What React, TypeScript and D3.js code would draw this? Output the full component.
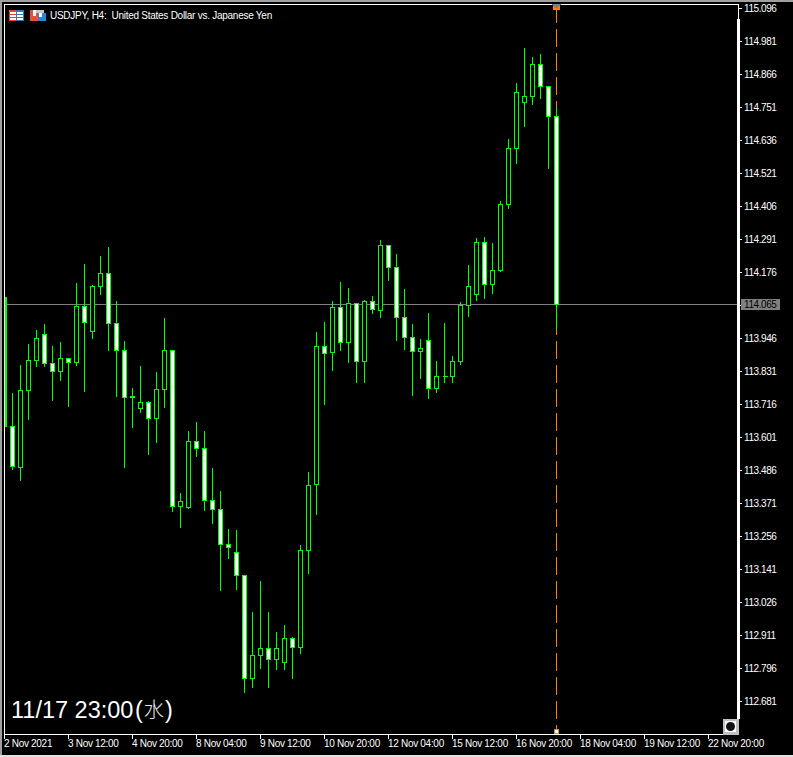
import React from "react";
import * as d3 from "d3";

const opens = [114.089,113.639,113.497,113.765,113.869,113.960,113.859,113.831,113.876,113.862,114.058,113.970,114.127,114.172,113.998,113.904,113.744,113.702,113.723,113.667,113.768,113.904,113.360,113.357,113.587,113.563,113.382,113.350,113.228,113.200,113.120,112.761,112.841,112.866,112.827,112.817,112.900,112.869,113.207,113.437,113.918,113.897,114.054,113.932,114.068,113.866,114.075,114.044,114.270,114.193,114.019,113.950,113.901,113.939,113.772,113.814,113.814,113.866,114.061,114.099,114.280,114.134,114.183,114.413,114.608,114.768,114.789,114.901,114.824,114.720];
const highs = [114.089,113.758,113.855,113.929,113.977,113.998,113.922,113.936,113.880,114.141,114.207,114.134,114.235,114.267,114.078,113.939,113.775,113.852,113.730,113.831,114.019,113.904,113.409,113.625,113.657,113.625,113.497,113.416,113.284,113.280,113.120,112.995,113.103,112.995,112.925,112.949,112.907,113.228,113.482,113.970,114.005,114.078,114.145,114.124,114.071,114.082,114.096,114.291,114.274,114.242,114.120,113.998,113.946,114.037,113.869,114.002,113.887,114.075,114.204,114.298,114.301,114.280,114.427,114.643,114.838,114.960,114.929,114.939,114.828,114.754];
const lows = [113.639,113.490,113.451,113.664,113.848,113.848,113.730,113.800,113.709,113.852,113.761,113.946,114.099,113.904,113.744,113.497,113.636,113.688,113.542,113.584,113.705,113.343,113.287,113.354,113.535,113.347,113.301,113.068,113.179,113.071,112.712,112.730,112.796,112.730,112.792,112.792,112.761,112.848,113.127,113.333,113.716,113.834,113.904,113.862,113.793,113.793,114.033,114.019,114.148,113.939,113.908,113.747,113.807,113.737,113.758,113.793,113.793,113.855,114.023,114.078,114.085,114.103,114.179,114.399,114.556,114.685,114.761,114.782,114.538,113.981];
const closes = [113.639,113.500,113.765,113.869,113.946,113.859,113.831,113.876,113.862,114.058,114.002,114.127,114.172,113.998,113.904,113.740,113.740,113.723,113.667,113.768,113.904,113.360,113.378,113.587,113.563,113.382,113.350,113.228,113.218,113.120,112.761,112.841,112.866,112.827,112.866,112.900,112.869,113.207,113.434,113.918,113.894,114.054,113.932,114.068,113.866,114.075,114.047,114.270,114.193,114.019,113.950,113.901,113.911,113.772,113.814,113.813,113.866,114.061,114.127,114.280,114.134,114.183,114.413,114.608,114.803,114.789,114.901,114.824,114.720,114.065];

const priceTicks = [115.096,114.981,114.866,114.751,114.636,114.521,114.406,114.291,114.176,114.061,113.946,113.831,113.716,113.601,113.486,113.371,113.256,113.141,113.026,112.911,112.796,112.681];
const timeLabels = ["2 Nov 2021","3 Nov 12:00","4 Nov 20:00","8 Nov 04:00","9 Nov 12:00","10 Nov 20:00","12 Nov 04:00","15 Nov 12:00","16 Nov 20:00","18 Nov 04:00","19 Nov 12:00","22 Nov 20:00"];
const timeLabelBars = [0,8,16,24,32,40,48,56,64,72,80,88];
const currentPrice = 114.065;
const markerBar = 69;
const title = "USDJPY, H4:  United States Dollar vs. Japanese Yen";
const stampTime = "11/17 23:00";
const stampDay = "水";

const W = 793, H = 757;
const y = d3.scaleLinear().domain([115.096, 112.681]).range([8.5, 701.5]);
const x = d3.scaleLinear().domain([0, 69]).range([4.5, 556.5]);
const snap = (p: number) => Math.floor(y(p)) + 0.5;
const GREEN = "#00ff00";
const RED = "#e8402a";
const BLUE = "#2a78c8";
const LABEL = "'Liberation Sans', Arial, sans-serif";

export default function App() {
  const mx = x(markerBar);
  const cy = snap(currentPrice);
  return (
    <svg width={W} height={H} viewBox={`0 0 ${W} ${H}`} style={{ position: "fixed", left: 0, top: 0, display: "block", background: "#000" }}>
      {/* window frame */}
      <rect x={0} y={0} width={W} height={2} fill="#a0a0a0" />
      <rect x={0} y={0} width={2} height={H} fill="#a0a0a0" />
      <rect x={0} y={755} width={W} height={2} fill="#e0e0e0" />

      <g shapeRendering="crispEdges">
        {/* plot frame */}
        <rect x={4} y={4} width={734} height={1} fill="#fff" />
        <rect x={4} y={4} width={1} height={731} fill="#fff" />
        <rect x={4} y={734} width={735} height={1} fill="#fff" />
        <rect x={738} y={4} width={1} height={731} fill="#fff" />
        <rect x={737} y={19} width={3} height={700} fill="#fff" />

        {/* current price line */}
        <line x1={5} x2={737} y1={cy} y2={cy} stroke="#808080" />

        {/* vertical marker */}
        <line x1={mx} x2={mx} y1={5} y2={734} stroke="#ff8000" strokeDasharray="18 6" />

        {/* candles */}
        {opens.map((o, i) => {
          const c = closes[i];
          const cx = x(i);
          const top = snap(Math.max(o, c));
          const bot = snap(Math.min(o, c));
          const bear = c < o;
          const hi = snap(highs[i]);
          const lo = snap(lows[i]);
          if (i === 0) {
            return <rect key={i} x={5} y={top - 0.5} width={2} height={bot - top + 1} fill={GREEN} />;
          }
          return (
            <g key={i}>
              <line x1={cx} x2={cx} y1={hi} y2={lo + 0.5} stroke={GREEN} />
              {bot - top < 1 ? (
                <line x1={cx - 2} x2={cx + 3} y1={top} y2={top} stroke={GREEN} />
              ) : (
                <rect x={cx - 2} y={top} width={4} height={bot - top} fill={bear ? "#fff" : "#000"} stroke={GREEN} />
              )}
            </g>
          );
        })}

        {/* y ticks */}
        {priceTicks.map((t) => (
          <line key={t} x1={738} x2={742} y1={snap(t)} y2={snap(t)} stroke="#fff" />
        ))}
        {/* x ticks */}
        {timeLabelBars.map((b) => (
          <line key={b} x1={Math.floor(x(b)) + 0.5} x2={Math.floor(x(b)) + 0.5} y1={735} y2={739} stroke="#fff" />
        ))}

        {/* marker caps */}
        <rect x={554.5} y={729.5} width={4} height={4} fill="#fff" stroke="#ff8000" />
        <path d="M553 6 H560 V10 H553 Z" fill="#ff8000" />
        <path d="M552 4 H561 L557.5 8 H555.5 Z" fill="#808080" />

        {/* corner button */}
        <rect x={723} y={719} width={16} height={16} fill="#c0c0c0" />
        <rect x={725} y={721} width={11} height={11} fill="#fff" />

        {/* symbol icons */}
        <rect x={9} y={10} width={8} height={11} fill={RED} />
        <rect x={16} y={10} width={8} height={11} fill={BLUE} />
        <rect x={10} y={12} width={6} height={2} fill="#fff" />
        <rect x={10} y={15} width={6} height={2} fill="#fff" />
        <rect x={10} y={18} width={6} height={2} fill="#fff" />
        <rect x={17} y={12} width={6} height={2} fill="#fff" />
        <rect x={17} y={15} width={6} height={2} fill="#fff" />
        <rect x={17} y={18} width={6} height={2} fill="#fff" />
        <rect x={30} y={10} width={8} height={11} fill="#e8503a" />
        <rect x={38} y={13} width={8} height={8} fill="#2a88d8" />
        <rect x={33} y={10} width={3} height={6} fill="#fff" />
        <rect x={36} y={10} width={8} height={3} fill="#c8c8c8" />
        <rect x={39} y={13} width={3} height={4} fill="#fff" />
      </g>
      <circle cx={730.5} cy={726.5} r={4.5} fill="#101018" />

      <text x={50} y={19} fill="#fff" fontFamily={LABEL} fontSize={10} letterSpacing={-0.26} xmlSpace="preserve">{title}</text>

      {priceTicks.map((t) => (
        <text key={t} x={744} y={snap(t) + 3.5} fill="#fff" fontFamily={LABEL} fontSize={10} letterSpacing={-0.42}>{t.toFixed(3)}</text>
      ))}
      {/* current price box covers the tick label beneath it */}
      <rect x={741} y={299} width={39} height={11} fill="#808080" shapeRendering="crispEdges" />
      <text x={744} y={cy + 3.5} fill="#000" fontFamily={LABEL} fontSize={10} letterSpacing={-0.42}>{currentPrice.toFixed(3)}</text>

      {timeLabels.map((l, i) => (
        <text key={l} x={Math.floor(x(timeLabelBars[i]))} y={747} fill="#fff" fontFamily={LABEL} fontSize={10} letterSpacing={-0.3}>{l}</text>
      ))}

      <text x={11} y={718} fill="#fff" fontFamily={`'Liberation Sans', sans-serif`} fontSize={23.5}>{stampTime}</text>
      <text x={135} y={718} fill="#fff" fontFamily={`'Liberation Sans', sans-serif`} fontSize={23.5}>(</text>
      <text x={144} y={717} fill="#e8e8e8" fontFamily={`'Noto Sans CJK JP', sans-serif`} fontSize={20} fontWeight={300}>{stampDay}</text>
      <text x={165} y={718} fill="#fff" fontFamily={`'Liberation Sans', sans-serif`} fontSize={23.5}>)</text>
    </svg>
  );
}
